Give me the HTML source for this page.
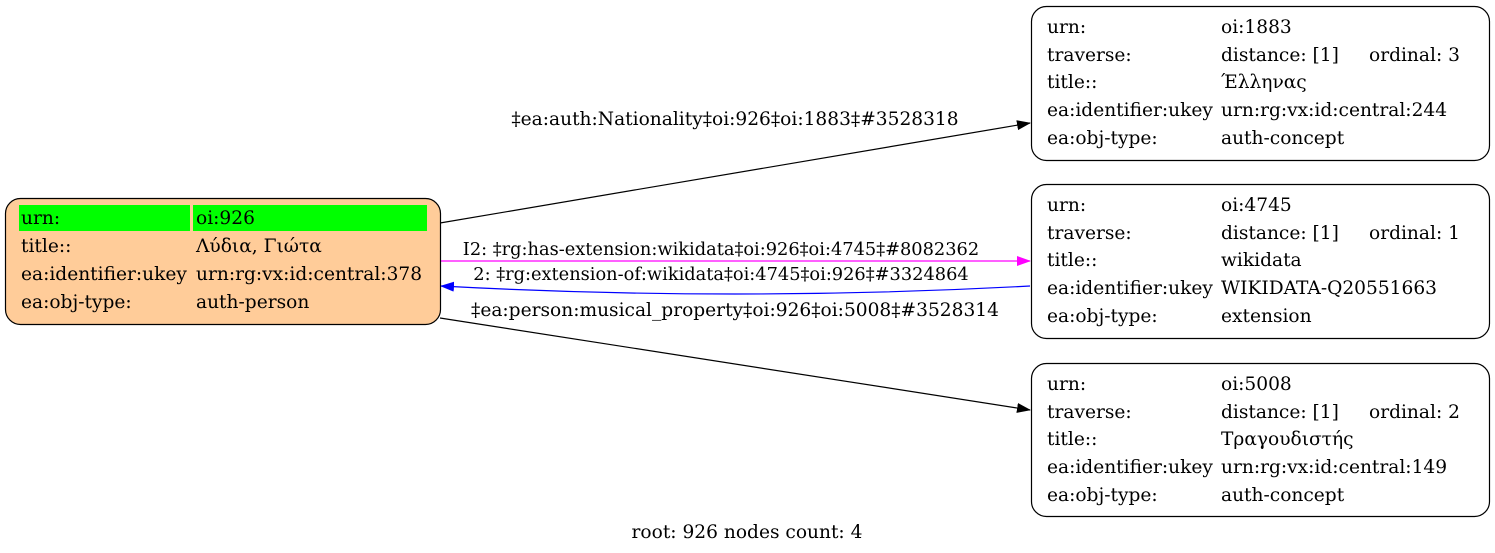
<!DOCTYPE html>
<html><head><meta charset="utf-8"><style>
html,body{margin:0;padding:0;background:#fff}
svg{display:block}
text{font-family:"DejaVu Serif","Liberation Serif",serif;font-size:18.6px;fill:#000}
text.s{font-size:17.8px}
</style></head><body>
<svg width="1495" height="553" viewBox="0 0 1495 553" xmlns="http://www.w3.org/2000/svg">
<defs>
<marker id="ab" markerWidth="14" markerHeight="10" refX="13" refY="5" orient="auto" markerUnits="userSpaceOnUse"><path d="M0,0 L14,5 L0,10 Z" fill="#000"/></marker>
<marker id="am" markerWidth="14" markerHeight="10" refX="13" refY="5" orient="auto" markerUnits="userSpaceOnUse"><path d="M0,0 L14,5 L0,10 Z" fill="#f0f"/></marker>
<marker id="abl" markerWidth="14" markerHeight="10" refX="13" refY="5" orient="auto" markerUnits="userSpaceOnUse"><path d="M0,0 L14,5 L0,10 Z" fill="#00f"/></marker>
</defs>

<line x1="440" y1="223" x2="1030" y2="123" stroke="#000" stroke-width="1.2" marker-end="url(#ab)"/>
<line x1="440" y1="261" x2="1030" y2="261" stroke="#f0f" stroke-width="1.2" marker-end="url(#am)"/>
<path d="M1030,286 Q735,302 441,286" fill="none" stroke="#00f" stroke-width="1.2" marker-end="url(#abl)"/>
<line x1="440" y1="318" x2="1030" y2="410" stroke="#000" stroke-width="1.2" marker-end="url(#ab)"/>

<text x="735" y="125" text-anchor="middle">‡ea:auth:Nationality‡oi:926‡oi:1883‡#3528318</text>
<text class="s" x="721" y="255" text-anchor="middle">I2: ‡rg:has-extension:wikidata‡oi:926‡oi:4745‡#8082362</text>
<text class="s" x="721" y="280" text-anchor="middle">2: ‡rg:extension-of:wikidata‡oi:4745‡oi:926‡#3324864</text>
<text x="735" y="316" text-anchor="middle">‡ea:person:musical_property‡oi:926‡oi:5008‡#3528314</text>

<rect x="5.5" y="198.5" width="435" height="126" rx="15" fill="#ffcc99" stroke="#000" stroke-width="1.2"/>
<rect x="19" y="205" width="171" height="26" fill="#00ff00"/>
<rect x="193" y="205" width="234" height="26" fill="#00ff00"/>
<text x="21" y="224">urn:</text><text x="196" y="224">oi:926</text>
<text x="21" y="252">title::</text><text x="196" y="252">Λύδια, Γιώτα</text>
<text x="21" y="280">ea:identifier:ukey</text><text x="196" y="280">urn:rg:vx:id:central:378</text>
<text x="21" y="308">ea:obj-type:</text><text x="196" y="308">auth-person</text>

<g>
<rect x="1031.5" y="6.5" width="458" height="154" rx="15" fill="#fff" stroke="#000" stroke-width="1.2"/>
<text x="1047" y="33">urn:</text><text x="1221" y="33">oi:1883</text>
<text x="1047" y="61">traverse:</text><text x="1221" y="61">distance: [1]</text><text x="1369" y="61">ordinal: 3</text>
<text x="1047" y="88">title::</text><text x="1221" y="88">Έλληνας</text>
<text x="1047" y="116">ea:identifier:ukey</text><text x="1221" y="116">urn:rg:vx:id:central:244</text>
<text x="1047" y="144">ea:obj-type:</text><text x="1221" y="144">auth-concept</text>
</g>
<g transform="translate(0,178)">
<rect x="1031.5" y="6.5" width="458" height="154" rx="15" fill="#fff" stroke="#000" stroke-width="1.2"/>
<text x="1047" y="33">urn:</text><text x="1221" y="33">oi:4745</text>
<text x="1047" y="61">traverse:</text><text x="1221" y="61">distance: [1]</text><text x="1369" y="61">ordinal: 1</text>
<text x="1047" y="88">title::</text><text x="1221" y="88">wikidata</text>
<text x="1047" y="116">ea:identifier:ukey</text><text x="1221" y="116">WIKIDATA-Q20551663</text>
<text x="1047" y="144">ea:obj-type:</text><text x="1221" y="144">extension</text>
</g>
<g transform="translate(0,357)">
<rect x="1031.5" y="6.5" width="458" height="153" rx="15" fill="#fff" stroke="#000" stroke-width="1.2"/>
<text x="1047" y="33">urn:</text><text x="1221" y="33">oi:5008</text>
<text x="1047" y="61">traverse:</text><text x="1221" y="61">distance: [1]</text><text x="1369" y="61">ordinal: 2</text>
<text x="1047" y="88">title::</text><text x="1221" y="88">Τραγουδιστής</text>
<text x="1047" y="116">ea:identifier:ukey</text><text x="1221" y="116">urn:rg:vx:id:central:149</text>
<text x="1047" y="144">ea:obj-type:</text><text x="1221" y="144">auth-concept</text>
</g>

<text x="747" y="538" text-anchor="middle">root: 926 nodes count: 4</text>
</svg>
</body></html>
